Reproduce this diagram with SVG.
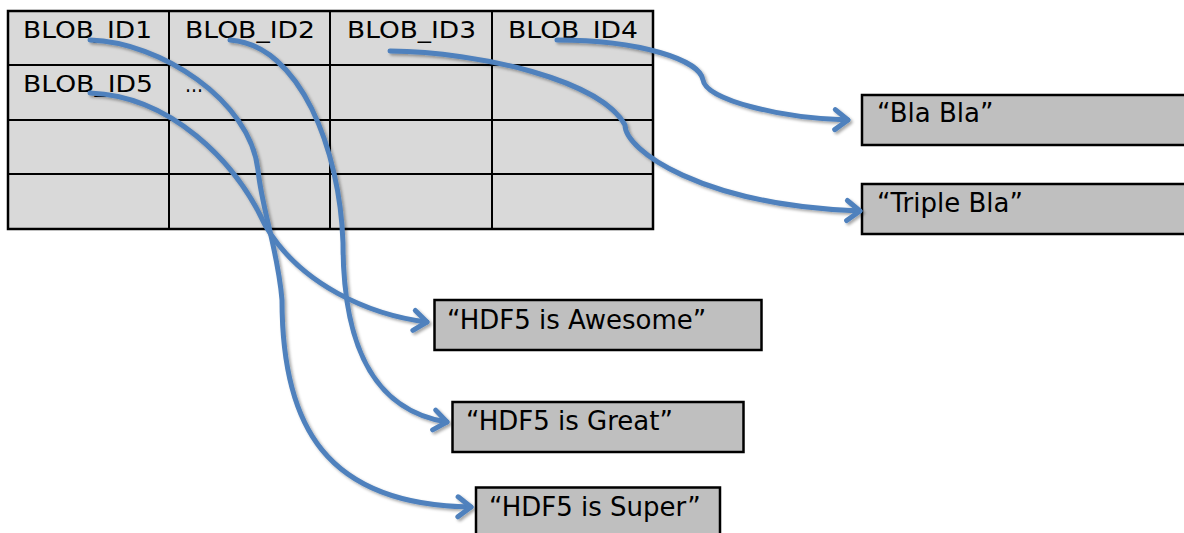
<svg xmlns="http://www.w3.org/2000/svg" width="1184" height="533" viewBox="0 0 1184 533">
  <style>
    .cell { fill: #d9d9d9; stroke: #000; stroke-width: 2; }
    .frame { fill: none; stroke: #000; stroke-width: 2.5; }
    .tlabel { font-family: "DejaVu Sans", Verdana, sans-serif; font-size: 23.5px; fill: #000; }
    .box { fill: #bfbfbf; stroke: #000; stroke-width: 2.5; }
    .blabel { font-family: "DejaVu Sans", Verdana, sans-serif; font-size: 26px; fill: #000; }
    .conn { fill: none; stroke: #4f81bd; stroke-width: 5; stroke-linecap: round; stroke-linejoin: round; marker-end: url(#arrow); }
  </style>
  <defs>
    <marker id="arrow" markerUnits="userSpaceOnUse" viewBox="-20 -15 26 30" refX="0" refY="0" markerWidth="26" markerHeight="30" orient="auto">
      <polyline points="-13,-10 0,0 -13,10" fill="none" stroke="#4f81bd" stroke-width="5" stroke-linecap="round" stroke-linejoin="round"/>
    </marker>
    <filter id="shadow" x="-10%" y="-10%" width="120%" height="120%">
      <feDropShadow dx="2" dy="2" stdDeviation="1.5" flood-color="#000" flood-opacity="0.35"/>
    </filter>
  </defs>

  <g id="table">
    <rect class="cell" x="8" y="11" width="161" height="54"/>
    <rect class="cell" x="169" y="11" width="161" height="54"/>
    <rect class="cell" x="330" y="11" width="162" height="54"/>
    <rect class="cell" x="492" y="11" width="161" height="54"/>
    <rect class="cell" x="8" y="65" width="161" height="55"/>
    <rect class="cell" x="169" y="65" width="161" height="55"/>
    <rect class="cell" x="330" y="65" width="162" height="55"/>
    <rect class="cell" x="492" y="65" width="161" height="55"/>
    <rect class="cell" x="8" y="120" width="161" height="54"/>
    <rect class="cell" x="169" y="120" width="161" height="54"/>
    <rect class="cell" x="330" y="120" width="162" height="54"/>
    <rect class="cell" x="492" y="120" width="161" height="54"/>
    <rect class="cell" x="8" y="174" width="161" height="55"/>
    <rect class="cell" x="169" y="174" width="161" height="55"/>
    <rect class="cell" x="330" y="174" width="162" height="55"/>
    <rect class="cell" x="492" y="174" width="161" height="55"/>
    <rect class="frame" x="8" y="11" width="645" height="218"/>
  </g>
  <g id="cell-blob1"><text class="tlabel" x="23" y="38" textLength="129" lengthAdjust="spacingAndGlyphs">BLOB_ID1</text></g>
  <g id="cell-blob2"><text class="tlabel" x="185" y="38" textLength="130" lengthAdjust="spacingAndGlyphs">BLOB_ID2</text></g>
  <g id="cell-blob3"><text class="tlabel" x="347" y="38" textLength="129" lengthAdjust="spacingAndGlyphs">BLOB_ID3</text></g>
  <g id="cell-blob4"><text class="tlabel" x="508" y="38" textLength="130" lengthAdjust="spacingAndGlyphs">BLOB_ID4</text></g>
  <g id="cell-blob5"><text class="tlabel" x="23" y="92" textLength="130" lengthAdjust="spacingAndGlyphs">BLOB_ID5</text></g>
  <g id="cell-more"><text class="tlabel" x="185" y="92" textLength="18" lengthAdjust="spacingAndGlyphs">…</text></g>

  <g id="box-blabla">
    <rect class="box" x="862" y="95" width="330" height="50"/>
    <text class="blabel" x="877" y="122">“Bla Bla”</text>
  </g>
  <g id="box-triplebla">
    <rect class="box" x="862" y="184" width="330" height="50"/>
    <text class="blabel" x="877" y="212">“Triple Bla”</text>
  </g>
  <g id="box-awesome">
    <rect class="box" x="434.5" y="300" width="327" height="50"/>
    <text class="blabel" x="447" y="329">“HDF5 is Awesome”</text>
  </g>
  <g id="box-great">
    <rect class="box" x="452.5" y="402" width="291" height="50"/>
    <text class="blabel" x="466" y="430">“HDF5 is Great”</text>
  </g>
  <g id="box-super">
    <rect class="box" x="476" y="487.5" width="244" height="50"/>
    <text class="blabel" x="489" y="516">“HDF5 is Super”</text>
  </g>

  <g id="connectors" filter="url(#shadow)">
    <path class="conn" d="M90,40 C160,42 250,100 258,170 C262,210 278,250 282,300 C282,425 325,505 471,507"/>
    <path class="conn" d="M230,40 C300,45 340,150 343,243 C343,340 370,410 447,422"/>
    <path class="conn" d="M390,51 C480,52 600,80 625,125 C625,150 700,205 860,211"/>
    <path class="conn" d="M557,40 C640,40 700,60 703,80 C706,100 780,118 848,120"/>
    <path class="conn" d="M90,93 C170,96 235,160 265,225 C300,285 370,315 427,322"/>
  </g>
</svg>
